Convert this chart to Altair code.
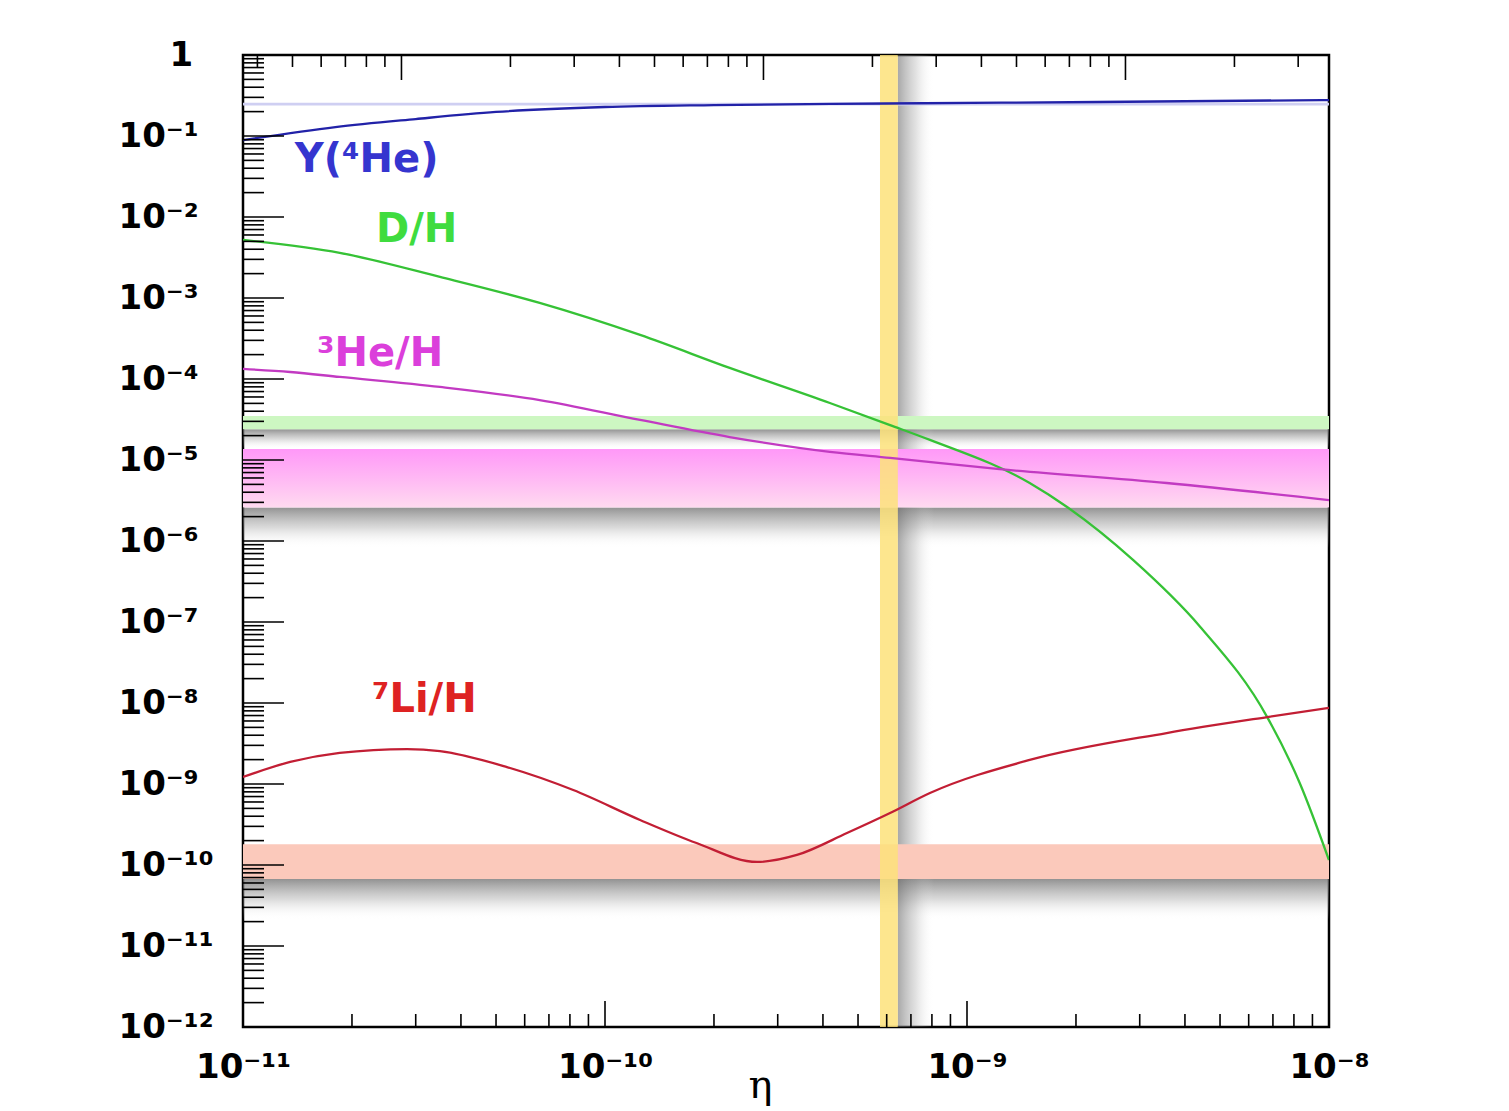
import altair as alt
import pandas as pd

# ---------------- plot geometry (styles) ----------------
W, H = 1086, 972
X_DOMAIN = [1e-11, 1e-8]
Y_DOMAIN = [1e-12, 1.0]

# ---------------- curve data ----------------
he4_eta = [1e-11, 1.8e-11, 3e-11, 5e-11, 1e-10, 2e-10, 6e-10, 2.3e-9, 1e-8]
he4_val = [0.089, 0.129, 0.162, 0.198, 0.228, 0.241, 0.252, 0.263, 0.278]

dh_eta = [1e-11, 1.85e-11, 3.5e-11, 6.6e-11, 1.25e-10, 2.21e-10, 4.18e-10, 6.13e-10,
          7.9e-10, 1.49e-9, 1.89e-9, 2.88e-9, 4.41e-9, 6.75e-9, 8.3e-9, 1e-8]
dh_val = [5.2e-3, 3.6e-3, 1.82e-3, 8.7e-4, 3.5e-4, 1.37e-4, 5.06e-5, 2.7e-5,
          1.77e-5, 5.2e-6, 2.63e-6, 5.8e-7, 8.7e-8, 6.7e-9, 1.03e-9, 1.15e-10]

he3_eta = [1e-11, 1.35e-11, 1.85e-11, 3.5e-11, 6.6e-11, 1.25e-10, 2.21e-10, 4.18e-10,
           6.13e-10, 1.23e-9, 3.56e-9, 1e-8]
he3_val = [1.33e-4, 1.22e-4, 1.06e-4, 7.97e-5, 5.5e-5, 3.12e-5, 1.92e-5, 1.26e-5,
           1.06e-5, 7.7e-6, 5.2e-6, 3.2e-6]

li7_eta = [1e-11, 1.35e-11, 1.85e-11, 2.84e-11, 3.5e-11, 5.36e-11, 8.17e-11, 1.25e-10,
           1.79e-10, 2.63e-10, 3.39e-10, 4.66e-10, 6.13e-10, 7.9e-10, 1.49e-9, 3.56e-9,
           6.75e-9, 1e-8]
li7_val = [1.22e-9, 1.87e-9, 2.42e-9, 2.7e-9, 2.55e-9, 1.62e-9, 8.43e-10, 3.6e-10,
           1.87e-10, 1.09e-10, 1.33e-10, 2.48e-10, 4.38e-10, 7.74e-10, 1.98e-9, 4.26e-9,
           6.7e-9, 8.7e-9]

series_names = ["He4", "DH", "He3", "Li7"]
line_colors = ["#2222a8", "#36c236", "#c23ac2", "#c21e34"]

# ---------------- observational bands ----------------
band_names = ["He4", "DH", "Li7"]
band_lo = [0.238, 2.4e-5, 6.7e-11]
band_hi = [0.258, 3.5e-5, 1.8e-10]
band_colors = ["#cfcff2", "#cdf7c2", "#fbc9bb"]

he3_band_lo = [2.6e-6]
he3_band_hi = [1.37e-5]

eta_band_lo = [5.75e-10]
eta_band_hi = [6.44e-10]

# ---------------- labels ----------------
label_text = ["Y(\u2074He)", "D/H", "\u00b3He/H", "\u2077Li/H"]
label_eta = [1.39e-11, 2.33e-11, 1.6e-11, 2.27e-11]
label_val = [0.0506, 6.9e-3, 2.04e-4, 1.09e-8]
label_colors = ["#3535cf", "#3fdc3f", "#db3fdb", "#de2222"]

# ---------------- ticks ----------------
Y_DECADES = [1.0, 1e-1, 1e-2, 1e-3, 1e-4, 1e-5, 1e-6, 1e-7, 1e-8, 1e-9, 1e-10, 1e-11, 1e-12]
y_tick_labels = ["\u200b\u2002\u2002\u20021", "10\u207b\u00b9", "10\u207b\u00b2", "10\u207b\u00b3",
                 "10\u207b\u2074", "10\u207b\u2075", "10\u207b\u2076", "10\u207b\u2077",
                 "10\u207b\u2078", "10\u207b\u2079", "10\u207b\u00b9\u2070",
                 "10\u207b\u00b9\u00b9", "10\u207b\u00b9\u00b2"]
X_DECADES = [1e-11, 1e-10, 1e-9, 1e-8]
x_tick_labels = ["10\u207b\u00b9\u00b9", "10\u207b\u00b9\u2070", "10\u207b\u2079", "10\u207b\u2078"]
MINOR_MULT = [2, 3, 4, 5, 6, 7, 8, 9]
# top axis: Omega_b h^2 (eta = 2.74e-8 * Omega_b h^2)
ETA_PER_OMEGA = 2.74e-8
OMEGA_MAJOR = [1e-3, 1e-2, 1e-1]
OMEGA_DECADES = [1e-4, 1e-3, 1e-2, 1e-1]

y_minor = [m * d for d in Y_DECADES[1:] for m in MINOR_MULT]
x_minor = [m * d for d in X_DECADES[:-1] for m in MINOR_MULT]
top_major = [o * ETA_PER_OMEGA for o in OMEGA_MAJOR]
top_minor = [m * d * ETA_PER_OMEGA for d in OMEGA_DECADES for m in MINOR_MULT]
top_minor = [v for v in top_minor if X_DOMAIN[0] <= v <= X_DOMAIN[1]]

# ---------------- frames ----------------
color_of = dict(zip(series_names, line_colors))
curves = pd.concat([
    pd.DataFrame({"eta": he4_eta, "val": he4_val, "series": "He4"}),
    pd.DataFrame({"eta": dh_eta, "val": dh_val, "series": "DH"}),
    pd.DataFrame({"eta": he3_eta, "val": he3_val, "series": "He3"}),
    pd.DataFrame({"eta": li7_eta, "val": li7_val, "series": "Li7"}),
], ignore_index=True)
curves["lc"] = curves["series"].map(color_of)

bands = pd.DataFrame({"name": band_names, "lo": band_lo, "hi": band_hi,
                      "bc": band_colors, "x0": X_DOMAIN[0], "x1": X_DOMAIN[1]})
he3_band = pd.DataFrame({"lo": he3_band_lo, "hi": he3_band_hi,
                         "x0": X_DOMAIN[0], "x1": X_DOMAIN[1]})
eta_band = pd.DataFrame({"lo": eta_band_lo, "hi": eta_band_hi,
                         "y0": Y_DOMAIN[0], "y1": Y_DOMAIN[1]})

# soft drop shadows below the horizontal bands and right of the eta band
SHADOW_DEPTH = 10 ** 0.5
shadow_h = pd.DataFrame({
    "hi": [band_lo[1], he3_band_lo[0], band_lo[2]],
    "lo": [he3_band_hi[0], he3_band_lo[0] / SHADOW_DEPTH, band_lo[2] / SHADOW_DEPTH],
    "x0": X_DOMAIN[0], "x1": X_DOMAIN[1]})
shadow_v = pd.DataFrame({"lo": eta_band_hi, "hi": [eta_band_hi[0] * 10 ** 0.1],
                         "y0": Y_DOMAIN[0], "y1": Y_DOMAIN[1]})

labels_df = pd.DataFrame({"text": label_text, "eta": label_eta, "val": label_val,
                          "color": label_colors})

df_y_major = pd.DataFrame({"v": Y_DECADES})
df_y_minor = pd.DataFrame({"v": y_minor})
df_x_major = pd.DataFrame({"v": X_DECADES[1:-1]})
df_x_minor = pd.DataFrame({"v": x_minor})
df_top_major = pd.DataFrame({"v": top_major})
df_top_minor = pd.DataFrame({"v": top_minor})

# ---------------- scales / axes ----------------
xs = alt.Scale(type="log", domain=X_DOMAIN, nice=False)
ys = alt.Scale(type="log", domain=Y_DOMAIN, nice=False)


def js_list(items):
    return "[" + ",".join("'" + s + "'" for s in items) + "]"


x_axis = alt.Axis(
    values=X_DECADES,
    labelExpr=js_list(x_tick_labels) + "[round(log(datum.value)/LN10)+11]",
    ticks=False, tickSize=0, domain=False, grid=False,
    labelFont="DejaVu Sans", labelFontWeight="bold", labelFontSize=34,
    labelColor="black", labelPadding=40, labelBaseline="middle",
    labelFlush=False, labelOverlap=False,
    title="\u03b7", titleFont="DejaVu Serif", titleFontSize=40,
    titleFontWeight="normal", titleColor="black",
    titleX=517, titleY=70, titleBaseline="alphabetic", titleAlign="center",
)
y_axis = alt.Axis(
    values=Y_DECADES,
    labelExpr=js_list(y_tick_labels) + "[-round(log(datum.value)/LN10)]",
    ticks=False, tickSize=0, domain=False, grid=False,
    labelFont="DejaVu Sans", labelFontWeight="bold", labelFontSize=34,
    labelColor="black", labelPadding=125, labelAlign="left",
    labelBaseline="middle", labelOverlap=False, labelFlush=False,
    title=None,
)


def X(field):
    return alt.X(field, scale=xs, axis=x_axis)


def Y(field):
    return alt.Y(field, scale=ys, axis=y_axis)


def shadow_grad(horizontal):
    stops = [alt.GradientStop(color="rgba(110,110,110,0.75)", offset=0),
             alt.GradientStop(color="rgba(150,150,150,0.35)", offset=0.5),
             alt.GradientStop(color="rgba(255,255,255,0)", offset=1)]
    if horizontal:
        return alt.Gradient(gradient="linear", stops=stops, x1=0, x2=1, y1=0, y2=0)
    return alt.Gradient(gradient="linear", stops=stops, x1=0, x2=0, y1=0, y2=1)


layer_shadow_h = alt.Chart(shadow_h).mark_rect(color=shadow_grad(False)).encode(
    x=X("x0:Q"), x2="x1:Q", y=Y("hi:Q"), y2="lo:Q")

layer_shadow_v = alt.Chart(shadow_v).mark_rect(color=shadow_grad(True), opacity=0.8).encode(
    x=X("lo:Q"), x2="hi:Q", y=Y("y0:Q"), y2="y1:Q")

layer_bands = alt.Chart(bands).mark_rect().encode(
    x=X("x0:Q"), x2="x1:Q", y=Y("lo:Q"), y2="hi:Q",
    color=alt.Color("bc:N", scale=None))

pink_grad = alt.Gradient(
    gradient="linear",
    stops=[alt.GradientStop(color="#ff98f8", offset=0),
           alt.GradientStop(color="#ffb8f4", offset=0.5),
           alt.GradientStop(color="#ffdaf0", offset=1)],
    x1=0, x2=0, y1=0, y2=1)
layer_he3_band = alt.Chart(he3_band).mark_rect(color=pink_grad).encode(
    x=X("x0:Q"), x2="x1:Q", y=Y("hi:Q"), y2="lo:Q")

layer_eta_band = alt.Chart(eta_band).mark_rect(color="#fde27a", opacity=0.85).encode(
    x=X("lo:Q"), x2="hi:Q", y=Y("y0:Q"), y2="y1:Q")

layer_lines = alt.Chart(curves).mark_line(strokeWidth=2.3, interpolate="monotone",
                                          clip=True).encode(
    x=X("eta:Q"), y=Y("val:Q"),
    detail="series:N",
    color=alt.Color("lc:N", scale=None))

TICK = dict(color="black", strokeWidth=1.6)
layer_ty_major = alt.Chart(df_y_major).mark_rule(**TICK).encode(
    y=Y("v:Q"), x=alt.value(0), x2=alt.value(41))
layer_ty_minor = alt.Chart(df_y_minor).mark_rule(**TICK).encode(
    y=Y("v:Q"), x=alt.value(0), x2=alt.value(21))
layer_tx_major = alt.Chart(df_x_major).mark_rule(**TICK).encode(
    x=X("v:Q"), y=alt.value(H), y2=alt.value(H - 26))
layer_tx_minor = alt.Chart(df_x_minor).mark_rule(**TICK).encode(
    x=X("v:Q"), y=alt.value(H), y2=alt.value(H - 13))
layer_tt_major = alt.Chart(df_top_major).mark_rule(**TICK).encode(
    x=X("v:Q"), y=alt.value(0), y2=alt.value(25))
layer_tt_minor = alt.Chart(df_top_minor).mark_rule(**TICK).encode(
    x=X("v:Q"), y=alt.value(0), y2=alt.value(12))

layer_labels = alt.Chart(labels_df).mark_text(
    align="left", baseline="middle", font="DejaVu Sans", fontWeight="bold",
    fontSize=40).encode(
    x=X("eta:Q"), y=Y("val:Q"),
    text="text:N",
    color=alt.Color("color:N", scale=None))

chart = alt.layer(
    layer_shadow_h, layer_shadow_v, layer_bands, layer_he3_band, layer_eta_band,
    layer_lines,
    layer_ty_major, layer_ty_minor, layer_tx_major, layer_tx_minor,
    layer_tt_major, layer_tt_minor,
    layer_labels,
).properties(
    width=W, height=H,
    autosize=alt.AutoSizeParams(type="none"),
    padding={"left": 235, "top": 47, "right": 150, "bottom": 84},
    background="white",
).configure_view(
    stroke="black", strokeWidth=2.5
)

chart.save("out.html", embed_options={"renderer": "svg", "actions": False})
